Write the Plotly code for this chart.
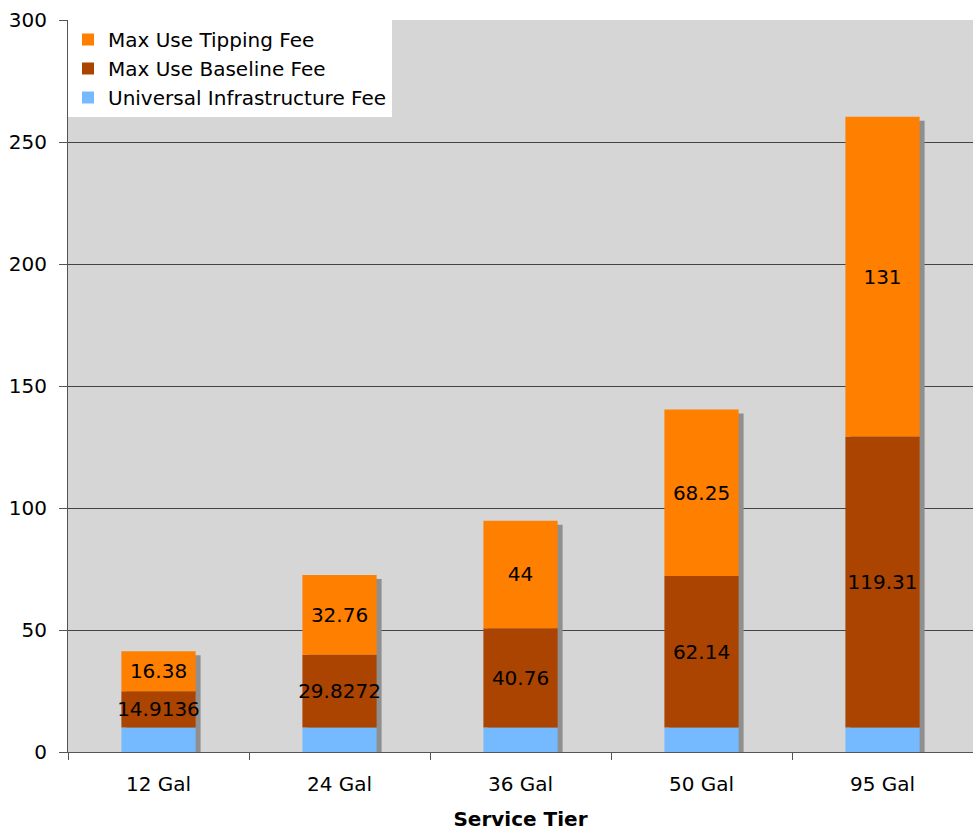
import plotly.graph_objects as go

# Monthly fee components per service tier
tiers = ["12 Gal", "24 Gal", "36 Gal", "50 Gal", "95 Gal"]
universal_fee = [10, 10, 10, 10, 10]
baseline_fee = [14.9136, 29.8272, 40.76, 62.14, 119.31]
tipping_fee = [16.38, 32.76, 44, 68.25, 131]

FONT = "Verdana, DejaVu Sans, sans-serif"
FS = 20
W, H = 973, 834
M_L, M_R, M_T, M_B = 68, 0, 20, 82
Y_MAX = 300
BAR_W = 0.41

# drop shadow offset in pixels, converted to axis units
px_per_cat = (W - M_L - M_R) / len(tiers)
px_per_unit = (H - M_T - M_B) / Y_MAX
shadow_dx = 5 / px_per_cat
shadow_dy = 4 / px_per_unit

x_idx = list(range(len(tiers)))
totals = [u + b + t for u, b, t in zip(universal_fee, baseline_fee, tipping_fee)]
base_baseline = list(universal_fee)
base_tipping = [u + b for u, b in zip(universal_fee, baseline_fee)]


def fmt(v):
    return f"{v:g}"


fig = go.Figure()

# shadow behind each stacked column
fig.add_trace(go.Bar(
    x=x_idx, y=totals, base=[-shadow_dy] * len(tiers),
    width=BAR_W, offset=-BAR_W / 2 + shadow_dx,
    marker=dict(color="#8f8f8f", line=dict(width=0)),
    showlegend=False, hoverinfo="skip",
))

fig.add_trace(go.Bar(
    x=x_idx, y=universal_fee, base=[0] * len(tiers),
    width=BAR_W, offset=-BAR_W / 2,
    name="Universal Infrastructure Fee",
    marker=dict(color="#75b9ff", line=dict(width=0)),
))

label_font = dict(family=FONT, size=FS, color="#000000")

fig.add_trace(go.Bar(
    x=x_idx, y=baseline_fee, base=base_baseline,
    width=BAR_W, offset=-BAR_W / 2,
    name="Max Use Baseline Fee",
    marker=dict(color="#aa4400", line=dict(width=0)),
    text=[fmt(v) for v in baseline_fee], textposition="inside",
    insidetextanchor="middle", textangle=0, constraintext="none",
    textfont=label_font, insidetextfont=label_font,
))

fig.add_trace(go.Bar(
    x=x_idx, y=tipping_fee, base=base_tipping,
    width=BAR_W, offset=-BAR_W / 2,
    name="Max Use Tipping Fee",
    marker=dict(color="#ff7f00", line=dict(width=0)),
    text=[fmt(v) for v in tipping_fee], textposition="inside",
    insidetextanchor="middle", textangle=0, constraintext="none",
    textfont=label_font, insidetextfont=label_font,
))

fig.update_layout(
    width=W, height=H,
    margin=dict(l=M_L, r=M_R, t=M_T, b=M_B),
    barmode="overlay",
    uniformtext=dict(mode=False),
    paper_bgcolor="#ffffff",
    plot_bgcolor="#d6d6d6",
    font=dict(family=FONT, size=FS, color="#000000"),
    showlegend=True,
    legend=dict(
        x=0, y=1, xanchor="left", yanchor="top",
        bgcolor="#ffffff", borderwidth=0,
        traceorder="reversed",
        font=dict(family=FONT, size=FS, color="#000000"),
        itemwidth=30, tracegroupgap=0,
    ),
    xaxis=dict(
        range=[-0.5, len(tiers) - 0.5],
        tickmode="array", tickvals=x_idx, ticktext=tiers,
        ticks="", showgrid=False, zeroline=False,
        showline=True, linecolor="#555555", linewidth=1,
        ticklabelstandoff=14,
        tickfont=dict(family=FONT, size=FS, color="#000000"),
        title=dict(text="<b>Service Tier</b>", standoff=16,
                   font=dict(family=FONT, size=FS, color="#000000")),
    ),
    yaxis=dict(
        range=[0, Y_MAX], dtick=50,
        ticks="outside", ticklen=8, tickcolor="#555555",
        ticklabelstandoff=8,
        showgrid=True, gridcolor="#444444", gridwidth=1,
        zeroline=False,
        showline=True, linecolor="#555555", linewidth=1,
        tickfont=dict(family=FONT, size=FS, color="#000000"),
    ),
)

# category separator ticks below the x axis
fig.update_xaxes(minor=dict(tickmode="array",
                            tickvals=[i - 0.5 for i in range(len(tiers) + 1)],
                            ticks="outside", ticklen=7, tickcolor="#555555",
                            showgrid=False))

fig.write_html("out.html")
